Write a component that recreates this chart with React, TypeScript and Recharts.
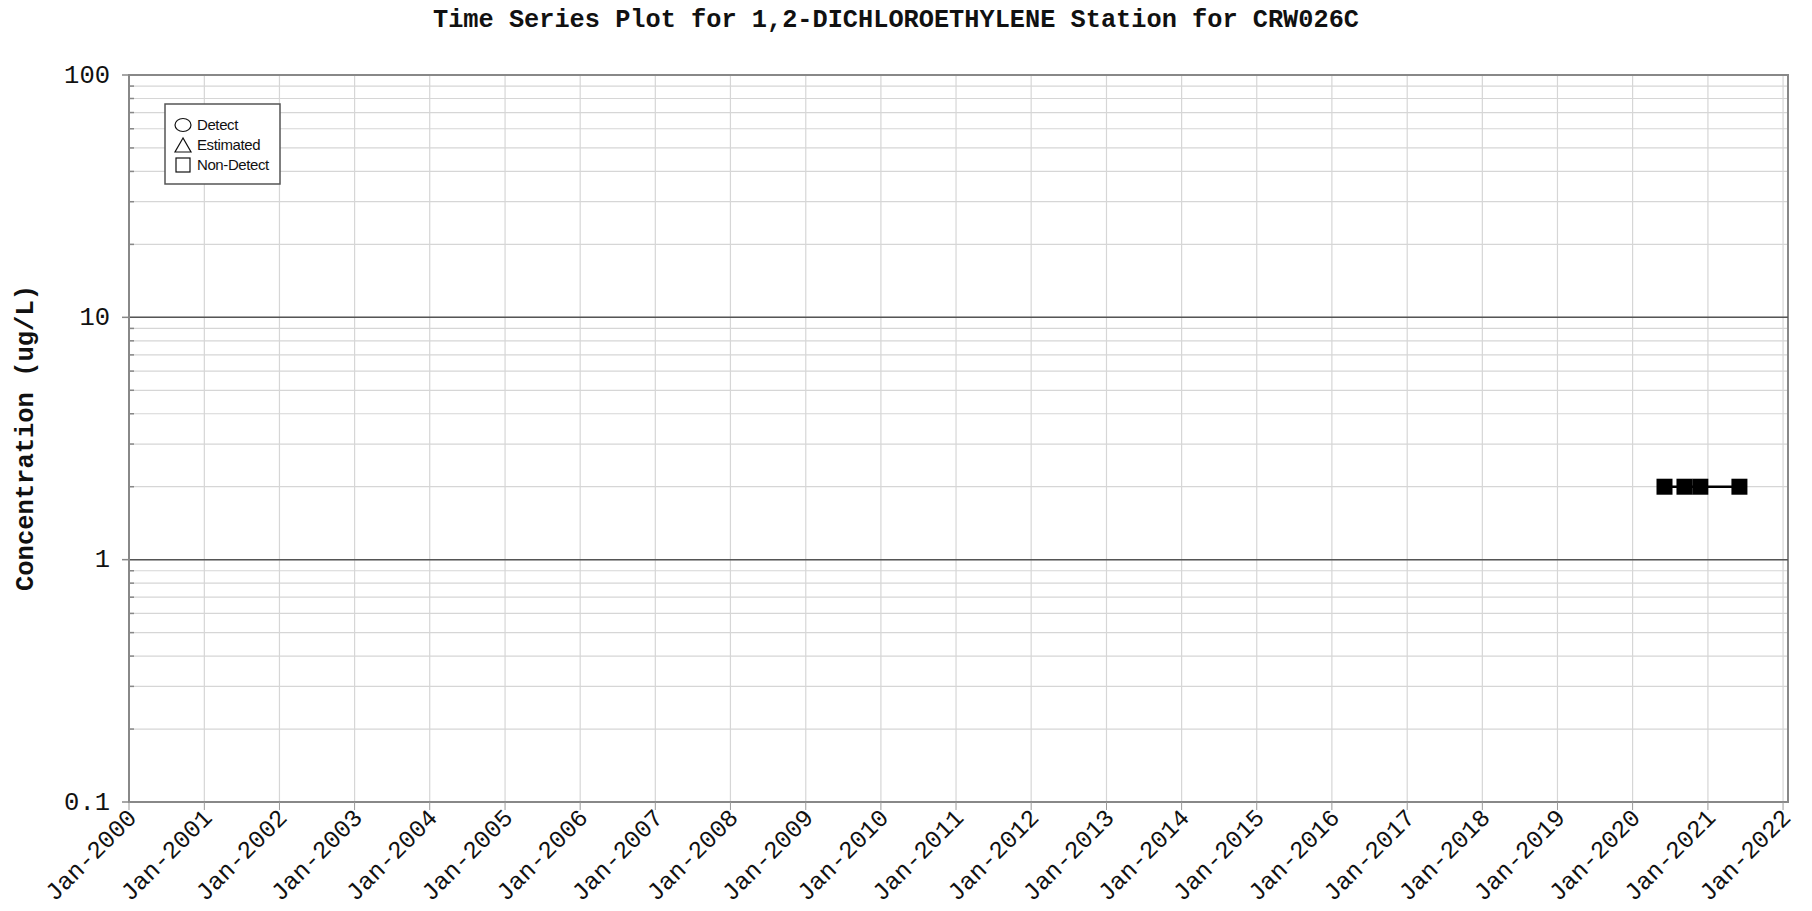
import React from 'react';
import { LineChart, Line, XAxis, YAxis, CartesianGrid, ReferenceLine, ReferenceArea } from 'recharts';

// ---- data ----
const sampleDates = ['2020-06-04', '2020-09-09', '2020-11-25', '2021-06-03'];
const concentrations = [2, 2, 2, 2];
const yearTicks = [2000, 2001, 2002, 2003, 2004, 2005, 2006, 2007, 2008, 2009, 2010, 2011, 2012, 2013, 2014, 2015, 2016, 2017, 2018, 2019, 2020, 2021, 2022];
const yMajorTicks = [0.1, 1, 10, 100];
const yMajorLabels = ['0.1', '1', '10', '100'];
const yMinorTicks = [0.2, 0.3, 0.4, 0.5, 0.6, 0.7, 0.8, 0.9, 2, 3, 4, 5, 6, 7, 8, 9, 20, 30, 40, 50, 60, 70, 80, 90];
const darkGridValues = [1, 10];
const legendItems = ['Detect', 'Estimated', 'Non-Detect'];
const titleText = 'Time Series Plot for 1,2-DICHLOROETHYLENE Station for CRW026C';
const yLabelText = 'Concentration (ug/L)';

const data = sampleDates.map((d, i) => ({ t: Date.parse(d + 'T00:00:00Z'), v: concentrations[i] }));
const xTicks = yearTicks.map((y) => Date.UTC(y, 0, 1));
const xDomain = [Date.UTC(2000, 0, 1), Date.UTC(2022, 0, 25)];
const yTicks = [...yMajorTicks, ...yMinorTicks].sort((a, b) => a - b);

const W = 1812;
const H = 911;
const MONO = '"Liberation Mono", "DejaVu Sans Mono", monospace';

const XTick = (props: any) => {
  const { x, y, payload } = props;
  const year = new Date(payload.value).getUTCFullYear();
  const ax = x + 9;
  const ay = y + 7;
  return (
    <text x={ax} y={ay} textAnchor="end" transform={`rotate(-45, ${ax}, ${ay})`}
      fontFamily={MONO} fontSize={24.5} fill="#111">
      {`Jan-${year}`}
    </text>
  );
};

const YTick = (props: any) => {
  const { x, y, payload } = props;
  const v = payload.value;
  const idx = yMajorTicks.indexOf(v);
  if (idx >= 0) {
    return (
      <g>
        <line x1={x - 7} x2={x} y1={y} y2={y} stroke="#888" strokeWidth={1.5} />
        <text x={x - 19} y={y} dy="0.3em" textAnchor="end" fontFamily={MONO} fontSize={25.5} fill="#111">
          {yMajorLabels[idx]}
        </text>
      </g>
    );
  }
  return <line x1={x} x2={x + 5} y1={y} y2={y} stroke="#888" strokeWidth={1.5} />;
};

const SquareDot = (props: any) => {
  const { cx, cy, index } = props;
  if (cx == null || cy == null) return <g key={index} />;
  return <rect key={index} x={cx - 8} y={cy - 8} width={16} height={16} fill="#000" />;
};

const LegendBox = () => (
  <svg width={118} height={83} style={{ position: 'absolute', left: 164, top: 103 }}>
    <rect x={1} y={1} width={115} height={80} fill="#fff" stroke="#555" strokeWidth={1.5} />
    <ellipse cx={19} cy={22} rx={8} ry={6.5} fill="none" stroke="#111" strokeWidth={1.2} />
    <polygon points="19,35 11,49 27,49" fill="none" stroke="#111" strokeWidth={1.2} />
    <rect x={12} y={55} width={14} height={14} fill="none" stroke="#111" strokeWidth={1.2} />
    {legendItems.map((t, i) => (
      <text key={t} x={33} y={22 + i * 20} dy="0.35em" fontFamily='"Liberation Sans", Arial, sans-serif'
        fontSize={15} letterSpacing={-0.4} fill="#111">
        {t}
      </text>
    ))}
  </svg>
);

export default function App() {
  return (
    <div style={{ position: 'relative', width: W, height: H, background: '#fff', overflow: 'hidden' }}>
      <style>{'html,body{margin:0;padding:0;overflow:hidden;}'}</style>
      <LineChart width={W} height={H} data={data}
        margin={{ top: 75, right: 24, bottom: 49, left: 49 }}>
        <CartesianGrid stroke="#d6d6d6" strokeWidth={1.2} />
        <XAxis dataKey="t" type="number" domain={xDomain} ticks={xTicks} allowDataOverflow
          height={60} tick={<XTick />} tickSize={8} tickLine={{ stroke: '#999' }}
          axisLine={{ stroke: '#888', strokeWidth: 2 }} interval={0} />
        <YAxis type="number" scale="log" domain={[0.1, 100]} ticks={yTicks} allowDataOverflow
          width={80} tick={<YTick />} tickSize={0} tickMargin={0} tickLine={false}
          axisLine={{ stroke: '#888', strokeWidth: 2 }} interval={0} />
        {darkGridValues.map((v) => (
          <ReferenceLine key={v} y={v} stroke="#555" strokeWidth={1.5} />
        ))}
        <ReferenceArea x1={xDomain[0]} x2={xDomain[1]} y1={0.1} y2={100} fill="none" fillOpacity={0}
          stroke="#888" strokeWidth={2} />
        <Line dataKey="v" type="linear" stroke="#000" strokeWidth={2.5} dot={<SquareDot />}
          isAnimationActive={false} />
      </LineChart>
      <div style={{ position: 'absolute', left: 8, width: 1776, top: 8, textAlign: 'center',
        fontFamily: MONO, fontWeight: 'bold', fontSize: 25.3, lineHeight: '26px', color: '#111' }}>
        {titleText}
      </div>
      <div style={{ position: 'absolute', left: 27 - 250, top: 438 - 15, width: 500, height: 30,
        lineHeight: '30px', textAlign: 'center', transform: 'rotate(-90deg)', fontFamily: MONO,
        fontWeight: 'bold', fontSize: 25.5, color: '#111' }}>
        {yLabelText}
      </div>
      <LegendBox />
    </div>
  );
}
